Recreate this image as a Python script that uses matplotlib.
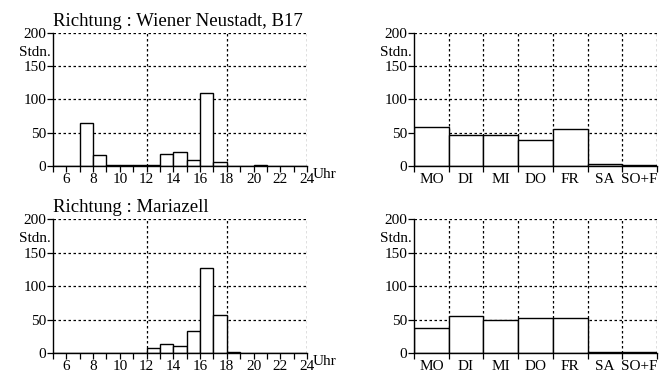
import matplotlib
matplotlib.use("Agg")
from matplotlib import pyplot as plt
import matplotlib.transforms as mtransforms

plt.rcParams['font.family'] = ['Liberation Serif', 'DejaVu Serif']
plt.rcParams['font.size'] = 11

# Data
hours = list(range(5, 24))  # bar starts at hour h, spans h..h+1
wn_hours = [0, 0, 64, 16, 2, 1, 1, 1, 18, 21, 9, 110, 6, 0, 0, 1, 0, 0, 0]
mz_hours = [0, 0, 0, 0, 0, 0, 0, 8, 13, 10, 33, 127, 57, 2, 0, 0, 0, 0, 0]

days = ['MO', 'DI', 'MI', 'DO', 'FR', 'SA', 'SO+F']
wn_days = [59, 47, 47, 39, 56, 3, 1]
mz_days = [38, 56, 49, 53, 52, 2, 1]

titles = ['Richtung : Wiener Neustadt, B17', 'Richtung : Mariazell']

fig = plt.figure(figsize=(6.71, 3.74), dpi=100)

def style_axis(ax):
    ax.set_ylim(0, 200)
    ax.set_yticks([0, 50, 100, 150, 200])
    ax.spines['top'].set_visible(False)
    ax.spines['right'].set_visible(False)
    ax.spines['left'].set_linewidth(1.0)
    ax.spines['bottom'].set_linewidth(1.0)
    for y in [50, 100, 150, 200]:
        ax.axhline(y, color='black', lw=0.9, ls=(0, (2, 2)), zorder=0)
    ax.tick_params(axis='y', length=4, width=0.9, pad=1, labelsize=11)
    ax.text(-0.01, 0.855, 'Stdn.', transform=ax.transAxes, ha='right',
            va='center', fontsize=11)

rows = [(0.556, 0.912), (0.056, 0.414)]
for r, (bottom, top) in enumerate(rows):
    # hourly chart
    ax = fig.add_axes([0.079, bottom, 0.4575 - 0.079, top - bottom])
    vals = [wn_hours, mz_hours][r]
    ax.bar(hours, vals, width=1, align='edge', facecolor='white',
           edgecolor='black', linewidth=1.0, zorder=2)
    ax.set_xlim(5, 24)
    style_axis(ax)
    for x in [12, 18, 24]:
        ax.axvline(x, color='black', lw=0.9, ls=(0, (2, 2)), zorder=0)
    ax.set_xticks(range(5, 25))
    ax.set_xticklabels([str(h) if h % 2 == 0 else '' for h in range(5, 25)])
    ax.tick_params(axis='x', length=4, width=0.9, pad=1, labelsize=11)
    trans = mtransforms.blended_transform_factory(ax.transData, ax.transAxes)
    ax.text(24.45, -0.065, 'Uhr', transform=trans, ha='left', va='center',
            fontsize=11, clip_on=False)
    ax.set_title(titles[r], fontsize=13.5, loc='left', pad=5)

    # daily chart
    ax2 = fig.add_axes([0.617, bottom, 0.979 - 0.617, top - bottom])
    dvals = [wn_days, mz_days][r]
    ax2.bar(range(len(days)), dvals, width=1, align='edge', facecolor='white',
            edgecolor='black', linewidth=1.0, zorder=2)
    ax2.set_xlim(0, len(days))
    style_axis(ax2)
    for x in range(1, len(days) + 1):
        ax2.axvline(x, color='black', lw=0.9, ls=(0, (2, 2)), zorder=0)
    ax2.set_xticks([i + 0.5 for i in range(len(days))])
    ax2.set_xticklabels(days)
    ax2.set_xticks(range(len(days) + 1), minor=True)
    ax2.tick_params(axis='x', which='major', length=0, pad=5, labelsize=11)
    ax2.tick_params(axis='x', which='minor', length=4, width=0.9)

fig.savefig('out.png', dpi=100)
